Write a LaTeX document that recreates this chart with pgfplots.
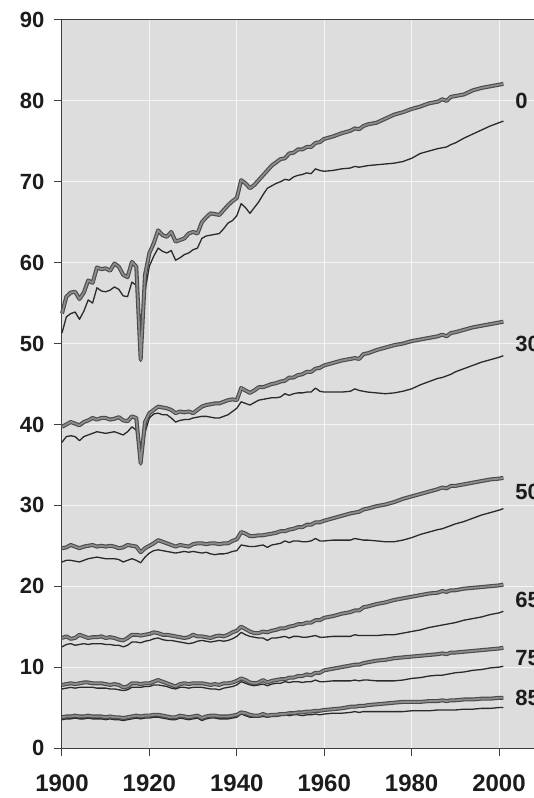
\documentclass[border=0pt]{standalone}
\usepackage{pgfplots}
\usepackage{pgfplotstable}
\usepackage{fontspec}
\setmainfont{Liberation Sans}
\pgfplotsset{compat=1.18}

\definecolor{panel}{HTML}{DDDDDD}
\definecolor{femedge}{HTML}{4A4A4A}
\definecolor{femfill}{HTML}{8C8C8C}
\definecolor{maleline}{HTML}{2A2A2A}
\definecolor{ink}{HTML}{1C1C1C}

% Remaining life expectancy by age (0, 30, 50, 65, 75, 85); f = women, m = men
\pgfplotstableread{
yr   f0   m0   f30  m30  f50  m50  f65  m65  f75  m75  f85 m85
1900 53.7 51.3 39.7 37.8 24.7 23.0 13.6 12.5 7.8 7.3 3.8 3.5
1901 55.8 53.3 40.0 38.5 24.8 23.2 13.8 12.8 7.9 7.4 3.9 3.6
1902 56.3 53.7 40.3 38.6 25.1 23.2 13.5 12.9 8.0 7.5 3.9 3.6
1903 56.4 53.9 40.1 38.5 24.9 23.1 13.6 12.7 7.9 7.4 4.0 3.7
1904 55.5 53.0 39.9 38.0 24.7 23.0 14.0 12.8 8.0 7.5 3.9 3.6
1905 56.3 54.0 40.3 38.5 24.9 23.2 13.8 12.9 8.1 7.5 3.9 3.6
1906 57.8 55.4 40.5 38.7 25.0 23.4 13.6 12.8 8.1 7.5 4.0 3.7
1907 57.5 55.0 40.8 38.9 25.1 23.5 13.7 12.9 8.0 7.5 3.9 3.6
1908 59.4 56.9 40.6 39.1 24.9 23.6 13.7 12.9 8.0 7.4 3.9 3.6
1909 59.2 56.5 40.8 39.0 25.0 23.5 13.8 12.9 8.0 7.4 3.9 3.6
1910 59.3 56.4 40.8 38.9 24.9 23.4 13.6 12.8 7.9 7.4 3.8 3.5
1911 59.0 56.6 40.6 39.0 25.0 23.4 13.7 12.8 7.8 7.3 3.9 3.6
1912 59.9 57.0 40.7 39.1 24.9 23.4 13.6 12.7 7.9 7.3 3.8 3.5
1913 59.5 56.7 40.9 38.9 24.7 23.3 13.4 12.7 7.8 7.2 3.8 3.5
1914 58.5 55.9 40.5 38.7 24.8 23.0 13.3 12.5 7.5 7.1 3.7 3.4
1915 58.2 55.8 40.4 39.1 25.1 23.2 13.6 12.7 7.6 7.2 3.8 3.5
1916 60.1 57.6 41.0 39.7 25.0 23.4 14.0 13.1 8.0 7.5 3.9 3.6
1917 59.5 57.2 40.8 39.3 24.9 23.2 14.0 13.1 8.0 7.5 4.0 3.7
1918 48.0 47.8 35.2 35.0 24.2 22.9 13.9 13.0 7.9 7.5 3.9 3.6
1919 58.5 56.5 40.3 39.0 24.7 23.6 14.0 13.2 8.0 7.6 4.0 3.7
1920 61.2 59.6 41.4 40.8 25.0 24.1 14.1 13.3 8.0 7.6 4.0 3.7
1921 62.4 60.8 41.8 41.3 25.3 24.4 14.3 13.5 8.2 7.8 4.1 3.8
1922 64.0 61.8 42.2 41.4 25.7 24.5 14.2 13.6 8.4 7.8 4.1 3.8
1923 63.4 61.4 42.1 41.2 25.5 24.4 14.0 13.4 8.2 7.7 4.0 3.7
1924 63.2 61.2 42.0 41.2 25.3 24.3 14.0 13.3 8.0 7.6 3.9 3.6
1925 63.8 61.5 41.8 40.8 25.1 24.2 13.9 13.3 7.8 7.4 3.8 3.5
1926 62.6 60.3 41.4 40.3 24.9 24.1 13.8 13.2 7.6 7.3 3.8 3.5
1927 62.8 60.6 41.6 40.5 25.1 24.2 13.7 13.1 7.9 7.5 4.0 3.7
1928 63.0 61.0 41.5 40.6 25.0 24.3 13.6 13.0 8.0 7.5 3.9 3.6
1929 63.6 61.2 41.6 40.6 24.9 24.2 13.7 12.9 7.9 7.4 3.8 3.5
1930 63.8 61.6 41.4 40.8 25.2 24.3 14.0 13.0 8.0 7.5 3.9 3.6
1931 63.6 61.8 41.8 40.9 25.3 24.2 13.8 13.2 8.0 7.5 4.0 3.7
1932 65.0 63.0 42.2 41.0 25.3 24.1 13.8 13.3 8.0 7.5 3.7 3.4
1933 65.6 63.3 42.4 41.0 25.2 24.2 13.7 13.2 7.9 7.4 3.9 3.6
1934 66.1 63.4 42.5 40.9 25.3 24.0 13.6 13.1 7.8 7.3 4.0 3.7
1935 66.0 63.5 42.6 40.8 25.3 23.9 13.8 13.2 7.9 7.3 4.0 3.7
1936 65.9 63.6 42.6 40.8 25.2 24.0 13.9 13.3 7.8 7.2 3.9 3.6
1937 66.5 64.2 42.8 41.0 25.3 24.0 13.8 13.2 8.0 7.4 3.9 3.6
1938 67.1 64.9 43.0 41.2 25.3 24.1 14.0 13.3 8.0 7.5 3.9 3.6
1939 67.6 65.2 43.1 41.6 25.6 24.3 14.3 13.5 8.1 7.6 4.0 3.7
1940 68.0 65.8 43.0 42.0 25.8 24.4 14.5 13.8 8.3 7.8 4.1 3.8
1941 70.2 67.3 44.5 42.8 26.7 25.1 15.0 14.3 8.6 8.2 4.4 4.2
1942 69.8 66.8 44.2 42.6 26.5 25.0 14.7 14.0 8.4 8.0 4.3 4.0
1943 69.2 66.1 43.9 42.4 26.2 24.9 14.4 13.8 8.1 7.8 4.1 3.8
1944 69.6 66.8 44.2 42.7 26.2 24.9 14.2 13.7 8.0 7.7 4.0 3.8
1945 70.2 67.5 44.6 43.0 26.3 25.0 14.2 13.6 8.1 7.8 4.0 3.8
1946 70.8 68.4 44.6 43.1 26.3 25.1 14.4 13.6 8.4 7.9 4.2 3.9
1947 71.4 69.2 44.8 43.2 26.4 24.8 14.3 13.3 8.1 7.7 4.0 3.8
1948 72.0 69.5 45.0 43.3 26.5 25.1 14.5 13.6 8.3 7.9 4.1 3.9
1949 72.4 69.8 45.1 43.3 26.6 25.2 14.6 13.6 8.4 8.0 4.1 3.9
1950 72.8 70.0 45.3 43.4 26.8 25.3 14.8 13.7 8.5 8.0 4.2 4.0
1951 72.9 70.3 45.4 43.8 26.8 25.6 14.8 13.8 8.5 8.2 4.2 4.1
1952 73.5 70.2 45.8 43.6 27.0 25.4 15.0 13.6 8.7 8.1 4.3 4.0
1953 73.6 70.6 45.8 43.8 27.1 25.6 15.1 13.8 8.7 8.2 4.3 4.1
1954 74.0 70.8 46.1 43.9 27.3 25.6 15.3 13.8 8.9 8.2 4.4 4.1
1955 74.0 70.9 46.2 43.9 27.3 25.5 15.3 13.7 8.9 8.1 4.4 4.0
1956 74.3 71.1 46.5 44.0 27.6 25.5 15.5 13.7 9.1 8.2 4.5 4.1
1957 74.3 71.0 46.5 44.0 27.6 25.6 15.5 13.8 9.0 8.2 4.5 4.1
1958 74.8 71.6 46.9 44.5 27.9 25.9 15.8 13.9 9.3 8.4 4.6 4.2
1959 74.9 71.4 47.0 44.1 27.9 25.6 15.8 13.7 9.3 8.2 4.6 4.1
1960 75.3 71.3 47.3 44.0 28.1 25.6 16.1 13.7 9.6 8.2 4.7 4.2
1962 75.6 71.4 47.6 44.0 28.4 25.7 16.3 13.8 9.8 8.3 4.8 4.3
1964 76.0 71.6 47.9 44.0 28.7 25.7 16.6 13.8 10.0 8.3 4.9 4.3
1966 76.3 71.7 48.1 44.1 29.0 25.7 16.8 13.8 10.2 8.3 5.1 4.4
1967 76.6 71.9 48.2 44.4 29.1 25.9 17.0 14.0 10.3 8.4 5.1 4.5
1968 76.5 71.8 48.1 44.2 29.2 25.8 17.0 13.9 10.3 8.3 5.2 4.4
1969 76.9 71.9 48.7 44.1 29.5 25.7 17.4 13.9 10.5 8.4 5.2 4.5
1970 77.1 72.0 48.8 44.0 29.6 25.7 17.5 13.9 10.6 8.4 5.3 4.5
1972 77.3 72.1 49.2 43.9 29.9 25.6 17.8 13.9 10.8 8.3 5.4 4.5
1974 77.8 72.2 49.5 43.8 30.1 25.5 18.0 14.0 10.9 8.3 5.5 4.5
1976 78.3 72.3 49.8 43.9 30.4 25.5 18.3 14.0 11.1 8.3 5.6 4.5
1978 78.6 72.5 50.0 44.1 30.8 25.7 18.5 14.2 11.2 8.4 5.7 4.5
1980 79.0 72.9 50.3 44.4 31.1 26.0 18.7 14.4 11.3 8.6 5.7 4.6
1982 79.3 73.5 50.5 44.9 31.4 26.4 18.9 14.6 11.4 8.7 5.7 4.6
1984 79.7 73.8 50.7 45.3 31.7 26.7 19.1 14.9 11.5 8.9 5.8 4.6
1986 79.9 74.1 50.9 45.7 32.0 27.0 19.2 15.1 11.6 9.0 5.8 4.7
1987 80.2 74.2 51.1 45.8 32.2 27.1 19.4 15.2 11.7 9.0 5.9 4.7
1988 80.0 74.3 50.9 46.0 32.1 27.3 19.3 15.3 11.6 9.1 5.8 4.7
1989 80.5 74.6 51.3 46.2 32.4 27.5 19.5 15.4 11.8 9.2 5.9 4.7
1990 80.6 74.8 51.4 46.5 32.4 27.7 19.5 15.5 11.8 9.3 5.9 4.7
1992 80.8 75.4 51.7 46.9 32.6 28.0 19.7 15.8 11.9 9.4 6.0 4.8
1994 81.3 75.9 52.0 47.3 32.8 28.4 19.8 16.0 12.0 9.6 6.0 4.8
1996 81.6 76.4 52.2 47.7 33.0 28.8 19.9 16.2 12.1 9.7 6.1 4.9
1998 81.8 76.9 52.4 48.0 33.2 29.1 20.0 16.5 12.2 9.9 6.1 4.9
2000 82.0 77.3 52.6 48.3 33.3 29.4 20.1 16.7 12.3 10.0 6.2 5.0
2001 82.1 77.5 52.7 48.5 33.4 29.6 20.2 16.9 12.4 10.1 6.2 5.0
}\lifetable

\begin{document}
\begin{tikzpicture}
  % page frame; the axis runs on past its right edge
  \useasboundingbox (-62pt,-50pt) rectangle (472pt,748pt);
  \clip (-62pt,-50pt) rectangle (472pt,748pt);
  \begin{axis}[
    at={(0,0)}, anchor=south west,
    scale only axis,
    width=502.55pt, height=728pt,
    xmin=1900, xmax=2015, ymin=0, ymax=90,
    xtick={1900,1920,...,2000},
    ytick={0,10,...,90},
    axis background/.style={fill=panel},
    grid=major,
    major grid style={white, opacity=0.7, line width=1pt},
    axis line style={ink!85, line width=1pt},
    tick align=outside,
    major tick length=8pt,
    tick style={ink!85, line width=1pt},
    xtick pos=bottom, ytick pos=left,
    /pgf/number format/1000 sep={},
    /pgf/number format/assume math mode=true,
    yticklabel style={font=\fontsize{22}{26}\selectfont\bfseries, text=ink, xshift=-6pt},
    xticklabel style={font=\fontsize{24}{28}\selectfont\bfseries, text=ink, yshift=-15pt},
    clip=false,
    line join=round,
    female/.style={draw=femedge, line width=1.1pt, double=femfill, double distance=1.8pt},
    male/.style={draw=maleline, line width=1.3pt},
  ]
    \foreach \a in {0,30,50,65,75,85} {
      \addplot[male] table[x=yr, y=m\a] {\lifetable};
      \addplot[female] table[x=yr, y=f\a] {\lifetable};
    }
    \begin{scope}[every node/.style={anchor=west, inner sep=0pt, text=ink,
        font=\fontsize{22}{26}\selectfont\bfseries}]
      \node at (axis cs:2003.7,80.0) {0};
      \node at (axis cs:2003.7,50.0) {30};
      \node at (axis cs:2003.7,31.6) {50};
      \node at (axis cs:2003.7,18.3) {65};
      \node at (axis cs:2003.7,11.1) {75};
      \node at (axis cs:2003.7,6.2) {85};
    \end{scope}
  \end{axis}
\end{tikzpicture}
\end{document}
